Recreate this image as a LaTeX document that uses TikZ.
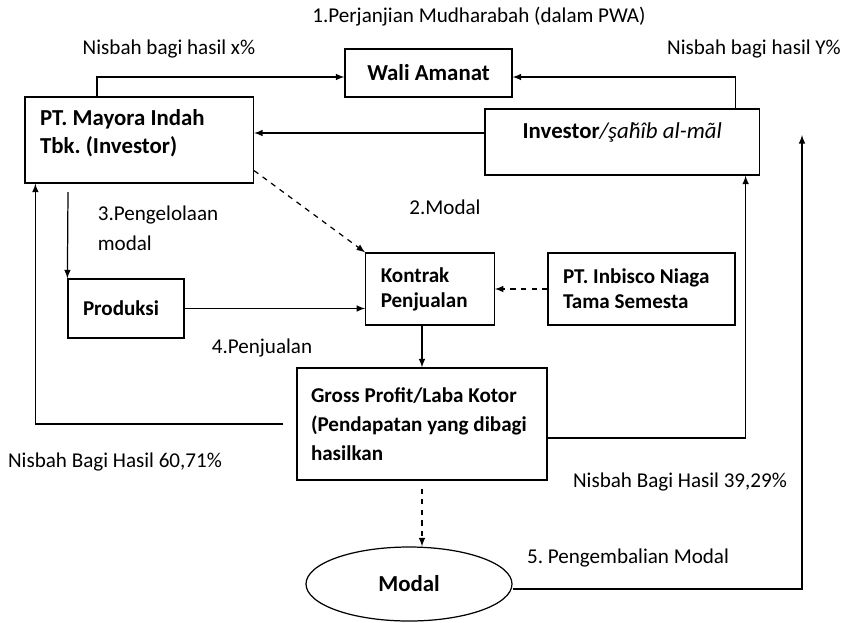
\documentclass[tikz,border=0pt]{standalone}
\usepackage{fontspec}
\setmainfont{Carlito}
\usetikzlibrary{shapes}
\usetikzlibrary{arrows}

\begin{document}
\frenchspacing
\begin{tikzpicture}

\tikzstyle{box}=[rectangle, draw=black, line width=0.7pt, font=\bfseries\fontsize{13}{15.5}\selectfont, align=flush left, inner xsep=0.3cm]
\tikzstyle{smallbox}=[box, font=\bfseries\fontsize{12}{14.2}\selectfont]
\tikzstyle{lbl}=[font=\fontsize{12}{17}\selectfont, inner sep=0pt]

\tikzstyle{connect}=[-latex, line width=0.7pt]
\tikzstyle{dconnect}=[-latex, line width=0.7pt, dashed]

\useasboundingbox (0,0) rectangle (16.9,-12.44);

\node[box, text width=2.74cm, minimum height=0.96cm, align=flush center] (wali) at (8.57,-1.46)  {Wali Amanat};
\node[box, text width=3.97cm, minimum height=1.72cm] (mayora) at (2.785,-2.8)  {PT. Mayora Indah\\Tbk. (Investor)\rule[-0.34cm]{0pt}{0pt}};
\node[box, text width=4.89cm, minimum height=1.32cm, align=flush center] (investor) at (12.445,-2.84)  {Investor{\mdseries\itshape/şaḫîb al-mãl}\rule[-0.44cm]{0pt}{0pt}};
\node[smallbox, text width=1.72cm, minimum height=1.18cm] (produksi) at (2.52,-6.17)  {Produksi};
\node[smallbox, text width=1.97cm, minimum height=1.44cm] (kontrak) at (8.6,-5.78)  {Kontrak\\Penjualan};
\node[smallbox, text width=3.14cm, minimum height=1.44cm] (inbisco) at (12.83,-5.78)  {PT. Inbisco Niaga\\Tama Semesta};
\node[smallbox, font=\bfseries\fontsize{12}{16.4}\selectfont, text width=4.44cm, inner xsep=0.28cm, minimum height=2.24cm] (gross) at (8.44,-8.48)  {Gross Profit/Laba Kotor\\(Pendapatan yang dibagi\\hasilkan};
\node[ellipse, draw=black, line width=0.7pt, minimum width=4.12cm, minimum height=1.48cm, font=\bfseries\fontsize{13}{15}\selectfont] (modal) at (8.18,-11.68)  {Modal};

\node[lbl] (perjanjian) at (9.58,-0.34)  {1.Perjanjian Mudharabah (dalam PWA)};
\node[lbl] (nisbahx) at (3.38,-0.98)  {Nisbah bagi hasil x\%};
\node[lbl] (nisbahy) at (15.08,-0.98)  {Nisbah bagi hasil Y\%};
\node[lbl] (lmodal) at (8.9,-4.14)  {2.Modal};
\node[lbl, anchor=west, align=left] (pengelolaan) at (1.95,-4.56)  {3.Pengelolaan\\modal};
\node[lbl] (penjualan) at (5.24,-6.96)  {4.Penjualan};
\node[lbl] (nisbahkiri) at (2.3,-9.24)  {Nisbah Bagi Hasil 60,71\%};
\node[lbl] (nisbahkanan) at (13.6,-9.64)  {Nisbah Bagi Hasil 39,29\%};
\node[lbl] (pengembalian) at (12.56,-11.16)  {5. Pengembalian Modal};

\coordinate (kelola) at (1.36,-3.84);
\coordinate (kanan) at (16.04,-2.7);

\draw[connect] ([xshift=1.45cm]mayora.north west) |- ([yshift=-0.08cm]wali.west);
\draw[connect] ([xshift=-0.49cm]investor.north east) |- ([yshift=-0.08cm]wali.east);
\draw[connect] ([yshift=0.18cm]investor.west) -- ([yshift=0.18cm]investor.west -| mayora.east);
\draw[dconnect] ([yshift=0.26cm]mayora.south east) -- (kontrak.north west);
\draw[connect] (kelola) -- (produksi.north west);
\path (produksi.east) [connect]  edge (produksi.east -| kontrak.west);
\path (inbisco.west) [dconnect]  edge (kontrak.east);
\draw[connect] (kontrak.south -| gross.north) -- (gross.north);
\draw[dconnect] ([yshift=-0.16cm]gross.south) -- (gross.south |- modal.north);

\draw[connect] ([xshift=-0.26cm]gross.west) -| ([xshift=0.22cm]mayora.south west);
\draw[connect] ([yshift=-0.28cm]gross.east) -| ([xshift=-0.29cm]investor.south east);
\draw[connect] ([yshift=-0.1cm]modal.east) -| (kanan);

\end{tikzpicture}
\end{document}
